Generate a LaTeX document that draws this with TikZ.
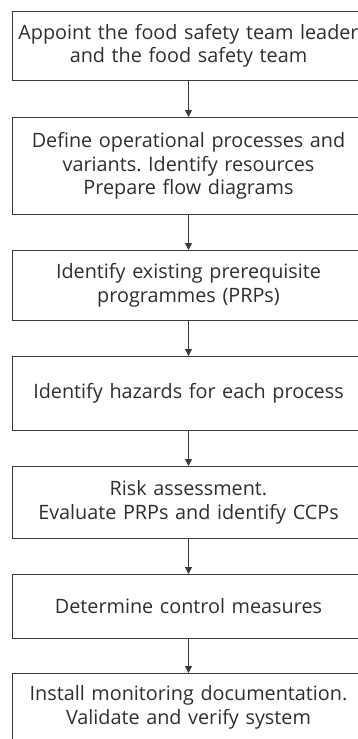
\documentclass[tikz,border=0pt]{standalone}
\usepackage{fontspec}
\setmainfont{Open Sans}
\usetikzlibrary{arrows.meta}
\definecolor{linegray}{HTML}{3A3A3A}
\definecolor{textgray}{HTML}{2E2E2E}
\frenchspacing
\begin{document}
\begin{tikzpicture}[x=1pt,y=-1pt,
  stepbox/.style={draw=linegray, line width=1pt, anchor=north west,
    minimum width=352pt, text width=352pt, align=center, inner sep=0pt,
    font=\fontsize{19.8}{23.5}\selectfont, text=textgray},
  flow/.style={draw=linegray, line width=0.9pt,
    -{Triangle[length=7pt,width=7pt]}}]
\useasboundingbox (0,0) rectangle (358,739);

\node[stepbox, minimum height=69pt] (s1) at (12,11)
  {Appoint the food safety team leader\\and the food safety team};
\node[stepbox, minimum height=97pt] (s2) at (12,117)
  {Define operational processes and\\variants. Identify resources\\Prepare flow diagrams};
\node[stepbox, minimum height=70pt] (s3) at (12,250)
  {Identify existing prerequisite\\programmes (PRPs)};
\node[stepbox, minimum height=74pt] (s4) at (12,356)
  {Identify hazards for each process};
\node[stepbox, minimum height=72pt] (s5) at (12,466)
  {Risk assessment.\\Evaluate PRPs and identify CCPs};
\node[stepbox, minimum height=64pt] (s6) at (12,574)
  {Determine control measures};
\node[stepbox, minimum height=68pt] (s7) at (12,673)
  {Install monitoring documentation.\\Validate and verify system};

\draw[flow] (s1.south) -- (s2.north);
\draw[flow] (s2.south) -- (s3.north);
\draw[flow] (s3.south) -- (s4.north);
\draw[flow] (s4.south) -- (s5.north);
\draw[flow] (s5.south) -- (s6.north);
\draw[flow] (s6.south) -- (s7.north);
\end{tikzpicture}
\end{document}
